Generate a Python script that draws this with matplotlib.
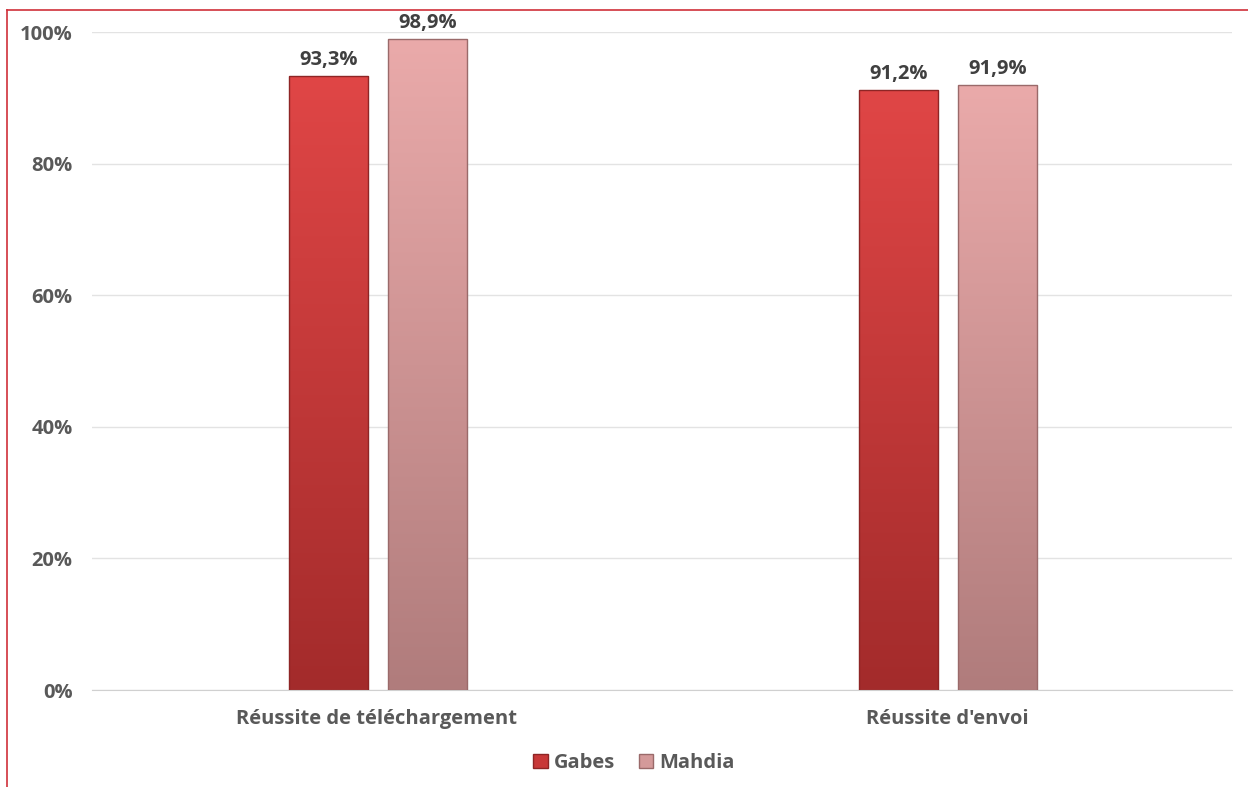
import matplotlib.pyplot as plt
import numpy as np
from matplotlib.colors import LinearSegmentedColormap
from matplotlib.patches import Patch
from matplotlib.lines import Line2D

# data
categories = ["Réussite de téléchargement", "Réussite d'envoi"]
series = ["Gabes", "Mahdia"]
gabes = [93.3, 91.2]
mahdia = [98.9, 91.9]
yticks = [0, 20, 40, 60, 80, 100]

plt.rcParams['font.family'] = ['Open Sans', 'DejaVu Sans']
plt.rcParams['font.weight'] = 'bold'

fig = plt.figure(figsize=(12.48, 7.87), dpi=100)
ax = fig.add_axes([92 / 1248, 97 / 787, 1140 / 1248, 658 / 787])

grads = [
    LinearSegmentedColormap.from_list('g', ['#a32b2b', '#e04646']),
    LinearSegmentedColormap.from_list('m', ['#b07c7c', '#eaaaaa']),
]
edges = ['#8e2525', '#9a6a6a']
w = 0.139
offsets = [-0.085, 0.0885]
x = np.arange(len(categories))
grad_img = np.linspace(0, 1, 256).reshape(-1, 1)

for vals, off, cmap, ec in zip([gabes, mahdia], offsets, grads, edges):
    bars = ax.bar(x + off, vals, width=w, color='none', edgecolor=ec, linewidth=1.0, zorder=3)
    for b, v in zip(bars, vals):
        x0 = b.get_x()
        im = ax.imshow(grad_img, cmap=cmap, origin='lower', aspect='auto',
                       extent=[x0, x0 + w, 0, v], zorder=2)
        im.set_clip_path(b)
        ax.text(x0 + w / 2, v + 0.9, f"{v:.1f}%".replace('.', ','), ha='center', va='bottom',
                fontsize=14.5, fontweight='bold', color='#404040')

ax.set_xlim(-0.5, 1.5)
ax.set_ylim(0, 100)
ax.set_yticks(yticks)
ax.set_yticklabels([f"{t}%" for t in yticks], fontsize=14.5, color='#595959', fontweight='bold')
ax.set_xticks(x)
ax.set_xticklabels(categories, fontsize=14.5, color='#595959', fontweight='bold')
ax.tick_params(axis='both', length=0)
ax.tick_params(axis='y', pad=14)
ax.tick_params(axis='x', pad=14)
ax.grid(axis='y', color='#e3e3e3', linewidth=1, zorder=0)
ax.set_axisbelow(True)
for s in ['top', 'right', 'left']:
    ax.spines[s].set_visible(False)
ax.spines['bottom'].set_color('#d0d0d0')

handles = [Patch(facecolor='#c83838', edgecolor='#8e2525', label='Gabes'),
           Patch(facecolor='#d49a9a', edgecolor='#9a6a6a', label='Mahdia')]
fig.legend(handles=handles, loc='center', bbox_to_anchor=(0.508, 1 - 763 / 787), ncol=2,
           frameon=False, fontsize=14.5, handlelength=0.7, handleheight=0.7,
           handletextpad=0.3, columnspacing=1.2, labelcolor='#595959')

# red frame on top and left
fig.add_artist(Line2D([7 / 1248, 1], [1 - 10 / 787, 1 - 10 / 787], color='#d0303a', linewidth=1.2))
fig.add_artist(Line2D([7 / 1248, 7 / 1248], [0, 1 - 10 / 787], color='#d0303a', linewidth=1.2))

fig.savefig('out.png', dpi=100)
